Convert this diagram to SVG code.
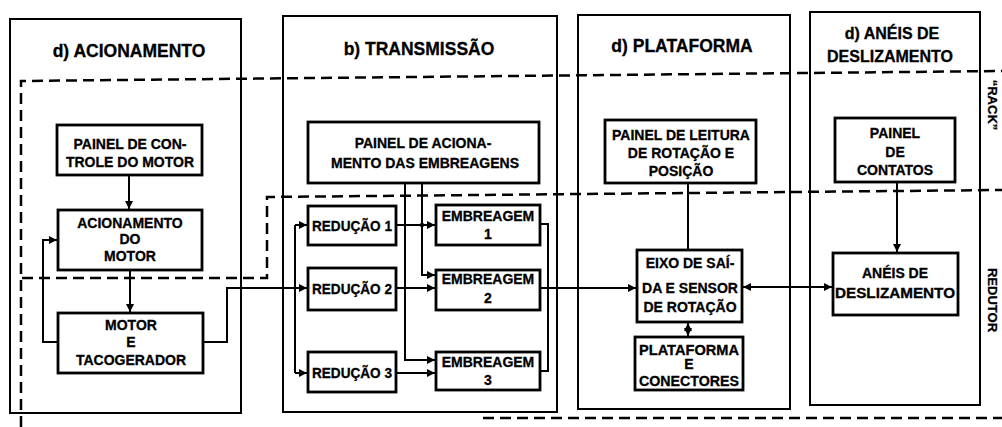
<svg xmlns="http://www.w3.org/2000/svg" width="1002" height="427" viewBox="0 0 1002 427">
<defs>
<marker id="a" viewBox="0 0 10 10" refX="10" refY="5" markerWidth="8" markerHeight="8" markerUnits="userSpaceOnUse" orient="auto-start-reverse"><path d="M0,0 L10,5 L0,10 z" fill="#000"/></marker>
<style>
.col{fill:none;stroke:#000;stroke-width:2}
.box{fill:#fff;stroke:#000;stroke-width:2.8}
.t{font-family:"Liberation Sans",Arial,sans-serif;font-weight:bold;font-size:14px;text-anchor:middle;fill:#000;stroke:#000;stroke-width:0.3}
.h{font-size:17.5px}
.c{fill:none;stroke:#000;stroke-width:2}
.ar{marker-end:url(#a)}
.ab{marker-start:url(#a);marker-end:url(#a)}
.d{fill:none;stroke:#000;stroke-width:2.5;stroke-dasharray:11 6}
</style>
</defs>
<rect width="1002" height="427" fill="#fff"/>
<g id="zones">
<path class="d" d="M21,427 V81 L1002,71"/>
<path class="d" d="M22,278 H267 V197 L1002,190"/>
<path class="d" d="M483,418 H1002"/>
<text class="t" style="font-size:13px" transform="translate(988,105) rotate(90)">“RACK”</text>
<text class="t" style="font-size:13px" transform="translate(988,300) rotate(90)">REDUTOR</text>
</g>
<g id="col-acionamento">
<rect class="col" x="10" y="19" width="231" height="394"/>
<text class="t h" x="129" y="57">d) ACIONAMENTO</text>
</g>
<g id="col-transmissao">
<rect class="col" x="283" y="16" width="274" height="396"/>
<text class="t h" x="419" y="55">b) TRANSMISSÃO</text>
</g>
<g id="col-plataforma">
<rect class="col" x="578" y="15" width="212" height="394"/>
<text class="t h" x="682" y="52">d) PLATAFORMA</text>
</g>
<g id="col-aneis">
<rect class="col" x="810" y="12" width="170" height="393"/>
<text class="t" style="font-size:16px" x="892" y="39">d) ANÉIS DE</text>
<text class="t" style="font-size:16px" x="890" y="62">DESLIZAMENTO</text>
</g>
<g id="connectors">
<path class="c ar" d="M129,175 V209"/>
<path class="c ar" d="M130,270 V312"/>
<path class="c ar" d="M58,342 H43 V240 H57"/>
<path class="c ar" d="M203,342 H227 V288 H307"/>
<path class="c" d="M295,225 V373"/>
<path class="c ar" d="M295,225 H307"/>
<path class="c ar" d="M295,373 H307"/>
<path class="c ar" d="M396,225 H435"/>
<path class="c ar" d="M396,288 H435"/>
<path class="c ar" d="M396,373 H435"/>
<path class="c ar" d="M405,183 V360 H435"/>
<path class="c ar" d="M422,183 V275 H435"/>
<circle cx="422" cy="225" r="2.2" fill="#000"/>
<path class="c" d="M540,224 H548 V371 H540"/>
<path class="c ar" d="M540,288 H636"/>
<path class="c" d="M688,183 V250"/>
<path class="c ab" d="M688,323 V336"/>
<path class="c ab" d="M743,287 H832"/>
<path class="c ar" d="M897,182 V252"/>
</g>
<g id="painel-controle-motor">
<rect class="box" x="57" y="125" width="145" height="50"/>
<text class="t" x="130" y="149">PAINEL DE CON-</text>
<text class="t" x="130" y="167">TROLE DO MOTOR</text>
</g>
<g id="acionamento-motor">
<rect class="box" x="58" y="210" width="144" height="60"/>
<text class="t" x="130" y="228">ACIONAMENTO</text>
<text class="t" x="130" y="244">DO</text>
<text class="t" x="130" y="261">MOTOR</text>
</g>
<g id="motor-tacogerador">
<rect class="box" x="58" y="313" width="145" height="60"/>
<text class="t" x="131" y="330">MOTOR</text>
<text class="t" x="131" y="347">E</text>
<text class="t" x="131" y="365">TACOGERADOR</text>
</g>
<g id="painel-embreagens">
<rect class="box" x="308" y="122" width="231" height="61"/>
<text class="t" x="423" y="148">PAINEL DE ACIONA-</text>
<text class="t" x="425" y="168">MENTO DAS EMBREAGENS</text>
</g>
<g id="reducao-1">
<rect class="box" x="308" y="206" width="88" height="39"/>
<text class="t" x="352" y="231" textLength="80" lengthAdjust="spacingAndGlyphs">REDUÇÃO 1</text>
</g>
<g id="reducao-2">
<rect class="box" x="308" y="268" width="88" height="42"/>
<text class="t" x="352" y="294" textLength="80" lengthAdjust="spacingAndGlyphs">REDUÇÃO 2</text>
</g>
<g id="reducao-3">
<rect class="box" x="308" y="352" width="88" height="40"/>
<text class="t" x="352" y="378" textLength="80" lengthAdjust="spacingAndGlyphs">REDUÇÃO 3</text>
</g>
<g id="embreagem-1">
<rect class="box" x="436" y="205" width="104" height="40"/>
<text class="t" x="488" y="221">EMBREAGEM</text>
<text class="t" x="488" y="239">1</text>
</g>
<g id="embreagem-2">
<rect class="box" x="436" y="270" width="104" height="40"/>
<text class="t" x="488" y="284">EMBREAGEM</text>
<text class="t" x="488" y="303">2</text>
</g>
<g id="embreagem-3">
<rect class="box" x="436" y="352" width="104" height="38"/>
<text class="t" x="488" y="367">EMBREAGEM</text>
<text class="t" x="488" y="385">3</text>
</g>
<g id="painel-leitura">
<rect class="box" x="605" y="120" width="151" height="63"/>
<text class="t" x="681" y="140">PAINEL DE LEITURA</text>
<text class="t" x="681" y="158">DE ROTAÇÃO E</text>
<text class="t" x="681" y="176">POSIÇÃO</text>
</g>
<g id="eixo-saida">
<rect class="box" x="637" y="250" width="105" height="72"/>
<text class="t" x="690" y="268">EIXO DE SAÍ-</text>
<text class="t" x="690" y="293">DA E SENSOR</text>
<text class="t" x="690" y="312">DE ROTAÇÃO</text>
</g>
<g id="plataforma-conectores">
<rect class="box" x="635" y="337" width="108" height="53"/>
<text class="t" x="689" y="355" textLength="100" lengthAdjust="spacingAndGlyphs">PLATAFORMA</text>
<text class="t" x="689" y="369">E</text>
<text class="t" x="689" y="386" textLength="100" lengthAdjust="spacingAndGlyphs">CONECTORES</text>
</g>
<g id="painel-contatos">
<rect class="box" x="835" y="118" width="120" height="64"/>
<text class="t" x="895" y="138">PAINEL</text>
<text class="t" x="895" y="157">DE</text>
<text class="t" x="895" y="175">CONTATOS</text>
</g>
<g id="aneis-deslizamento">
<rect class="box" x="833" y="253" width="125" height="62"/>
<text class="t" x="895" y="278">ANÉIS DE</text>
<text class="t" x="895" y="298" textLength="120" lengthAdjust="spacingAndGlyphs">DESLIZAMENTO</text>
</g>
</svg>
